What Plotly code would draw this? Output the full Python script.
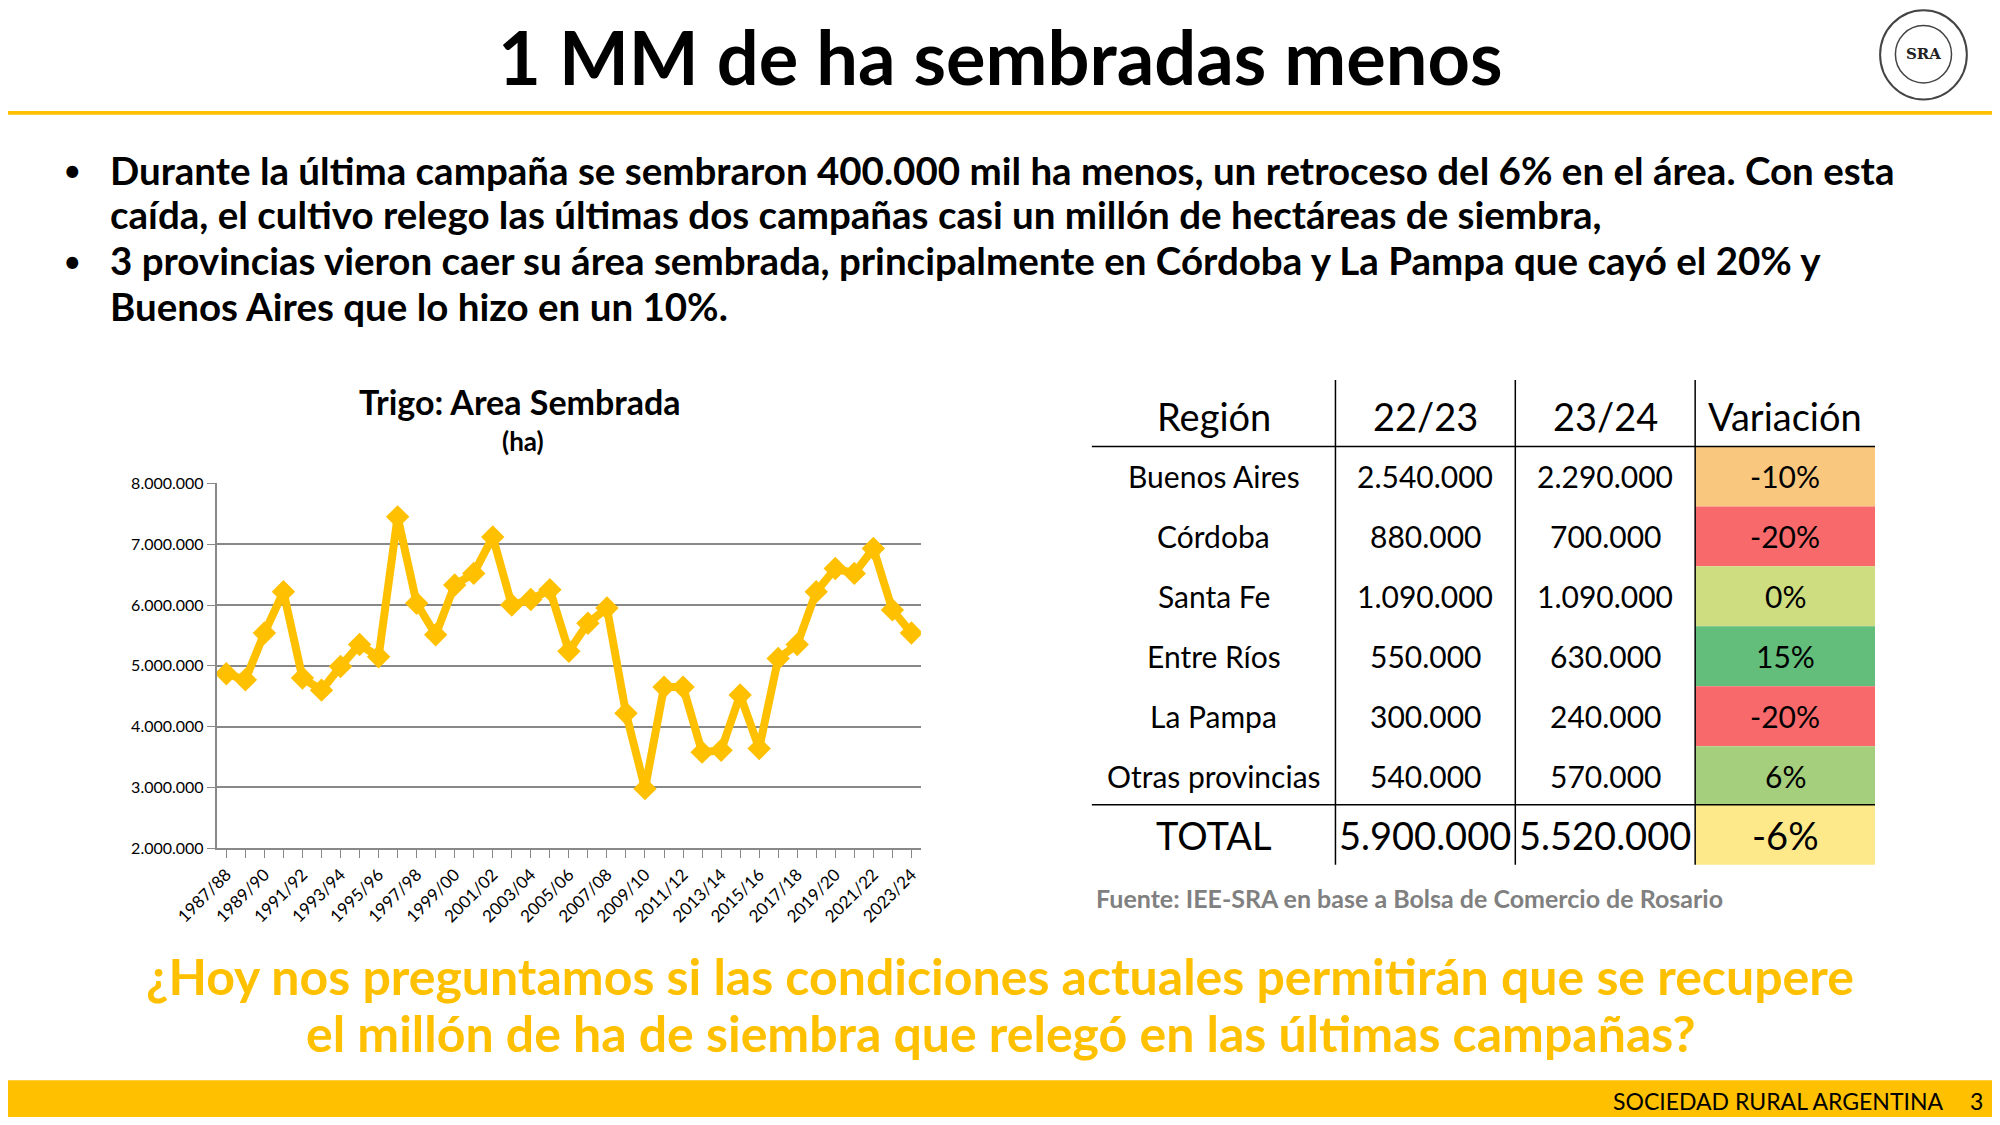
import plotly.graph_objects as go

W, H = 1984, 1109
S = 2000 / 1568
OFF = 8

campaigns = [f"{y}/{str(y+1)[-2:]}" for y in range(1987, 2024)]
area = [4.87, 4.77, 5.54, 6.22, 4.80, 4.60, 4.99, 5.35, 5.15, 7.45, 6.03, 5.51, 6.33, 6.52, 7.12,
        6.00, 6.09, 6.25, 5.24, 5.70, 5.95, 4.22, 2.98, 4.65, 4.65, 3.58, 3.61, 4.52, 3.64, 5.12,
        5.35, 6.22, 6.60, 6.52, 6.93, 5.92, 5.54]
area = [v * 1e6 for v in area]
tick_labels = [c if i % 2 == 0 else "" for i, c in enumerate(campaigns)]
yticks = [2e6, 3e6, 4e6, 5e6, 6e6, 7e6, 8e6]
ytick_text = ["2.000.000", "3.000.000", "4.000.000", "5.000.000", "6.000.000", "7.000.000", "8.000.000"]

headers = ["Región", "22/23", "23/24", "Variación"]
regions = ["Buenos Aires", "Córdoba", "Santa Fe", "Entre Ríos", "La Pampa", "Otras provincias"]
v2223 = ["2.540.000", "880.000", "1.090.000", "550.000", "300.000", "540.000"]
v2324 = ["2.290.000", "700.000", "1.090.000", "630.000", "240.000", "570.000"]
variation = ["-10%", "-20%", "0%", "15%", "-20%", "6%"]
var_colors = ["#F9C77E", "#F8696B", "#CEDD80", "#63BE7B", "#F8696B", "#A5CF7C"]
total = ["TOTAL", "5.900.000", "5.520.000", "-6%"]
total_color = "#FEE98A"

FONT = "Lato"

def px(x): return (x * S - OFF) / W
def py(y): return 1 - (y * S - OFF) / H

def A(text, x, y, size, color="black", xa="center", ya="middle", family=FONT):
    return dict(text=text, x=px(x), y=py(y), xref="paper", yref="paper", showarrow=False,
                xanchor=xa, yanchor=ya, font=dict(size=size, color=color, family=family))

fig = go.Figure()
fig.add_trace(go.Scatter(x=campaigns, y=area, mode="lines+markers",
                         line=dict(color="#FFC000", width=8),
                         marker=dict(symbol="diamond", size=18, color="#FFC000")))

shapes, ann = [], []
shapes.append(dict(type="rect", xref="paper", yref="paper", x0=0, x1=1, y0=py(90), y1=py(87),
                   fillcolor="#FFC000", line_width=0))
shapes.append(dict(type="rect", xref="paper", yref="paper", x0=0, x1=1, y0=0, y1=py(847),
                   fillcolor="#FFC000", line_width=0))
ann.append(A("<b>1 MM de ha sembradas menos</b>", 784, 44, 74))
shapes.append(dict(type="circle", xref="paper", yref="paper", x0=px(1474), x1=px(1542), y0=py(78), y1=py(8),
                   line=dict(color="#444", width=2), fillcolor="white"))
shapes.append(dict(type="circle", xref="paper", yref="paper", x0=px(1486), x1=px(1530), y0=py(65), y1=py(20),
                   line=dict(color="#444", width=1.5), fillcolor="white"))
ann.append(A("<b>SRA</b>", 1508, 42, 15, "#222", family="DejaVu Serif"))

bullets = [
    (133, "•", "<b>Durante la última campaña se sembraron 400.000 mil ha menos, un retroceso del 6% en el área. Con esta</b>"),
    (168, "", "<b>caída, el cultivo relego las últimas dos campañas casi un millón de hectáreas de siembra,</b>"),
    (204, "•", "<b>3 provincias vieron caer su área sembrada, principalmente en Córdoba y La Pampa que cayó el 20% y</b>"),
    (240, "", "<b>Buenos Aires que lo hizo en un 10%.</b>"),
]
for y, b, t in bullets:
    if b:
        ann.append(A("•", 48, y, 32, xa="left"))
    ann.append(A(t, 85, y, 38.5, xa="left"))

ann.append(A("<b>Trigo: Area Sembrada</b>", 408, 315, 34))
ann.append(A("<b>(ha)</b>", 410, 346, 26))

colx = [856, 1047, 1188, 1329, 1470]
rowy = [298, 350, 397, 444, 491, 538, 585, 631, 678]
for i, h in enumerate(headers):
    ann.append(A(h, (colx[i] + colx[i+1]) / 2, 326, 38))
for r in range(6):
    y0, y1 = rowy[r+1], rowy[r+2]
    shapes.append(dict(type="rect", xref="paper", yref="paper", x0=px(colx[3]), x1=px(colx[4]),
                       y0=py(y1), y1=py(y0), fillcolor=var_colors[r], line_width=0, layer="below"))
    vals = [regions[r], v2223[r], v2324[r], variation[r]]
    for i, v in enumerate(vals):
        ann.append(A(v, (colx[i] + colx[i+1]) / 2, (y0 + y1) / 2, 30))
shapes.append(dict(type="rect", xref="paper", yref="paper", x0=px(colx[3]), x1=px(colx[4]),
                   y0=py(rowy[8]), y1=py(rowy[7]), fillcolor=total_color, line_width=0, layer="below"))
for i, v in enumerate(total):
    ann.append(A(v, (colx[i] + colx[i+1]) / 2, (rowy[7] + rowy[8]) / 2, 38))
for yy in (350, 631):
    shapes.append(dict(type="line", xref="paper", yref="paper", x0=px(856), x1=px(1470), y0=py(yy), y1=py(yy),
                       line=dict(color="black", width=1.5)))
for xx in colx[1:4]:
    shapes.append(dict(type="line", xref="paper", yref="paper", x0=px(xx), x1=px(xx), y0=py(678), y1=py(298),
                       line=dict(color="black", width=1.5)))
ann.append(A("<b>Fuente: IEE-SRA en base a Bolsa de Comercio de Rosario</b>", 858, 704, 25, "#808080", xa="left"))

ann.append(A("<b>¿Hoy nos preguntamos si las condiciones actuales permitirán que se recupere</b>", 784, 765, 50, "#FFC000"))
ann.append(A("<b>el millón de ha de siembra que relegó en las últimas campañas?</b>", 784, 810, 50, "#FFC000"))
ann.append(A("SOCIEDAD RURAL ARGENTINA", 1525, 863, 23, xa="right"))
ann.append(A("3", 1556, 863, 23, xa="right"))

fig.update_layout(
    width=W, height=H, margin=dict(l=0, r=0, t=0, b=0, autoexpand=False), paper_bgcolor="white",
    plot_bgcolor="white", showlegend=False, shapes=shapes, annotations=ann,
    xaxis=dict(domain=[px(170), px(722)], tickmode="array", tickvals=campaigns, ticktext=tick_labels,
               tickangle=-45, ticks="outside", ticklen=8, tickcolor="#888", showline=True, linecolor="#888",
               linewidth=2, showgrid=False, range=[-0.5, 36.5], automargin=False,
               tickfont=dict(size=17, family=FONT, color="black")),
    yaxis=dict(domain=[py(665), py(379)], range=[2e6, 8e6], tickvals=yticks, ticktext=ytick_text,
               showgrid=True, gridcolor="#888", gridwidth=2, ticks="outside", ticklen=8, tickcolor="#888",
               showline=True, linecolor="#888", linewidth=2, zeroline=False, automargin=False,
               tickfont=dict(size=16, family=FONT, color="black")),
)
fig.write_html("out.html")
